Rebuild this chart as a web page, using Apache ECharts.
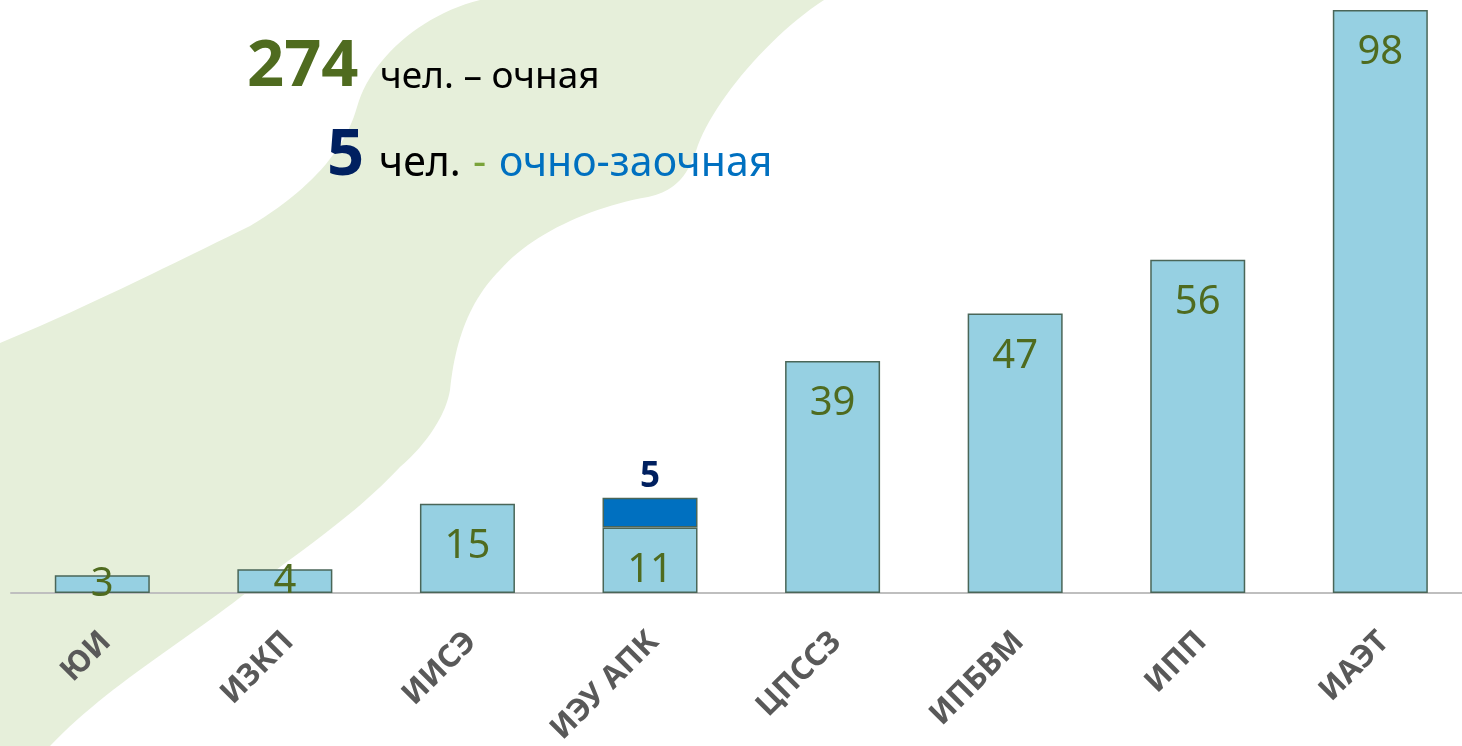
<!DOCTYPE html>
<html>
<head>
<meta charset="utf-8">
<script src="https://cdn.jsdelivr.net/npm/echarts@6/dist/echarts.min.js"></script>
<style>
  html, body { margin: 0; padding: 0; background: #ffffff; }
  #chart { width: 1462px; height: 746px; }
</style>
</head>
<body>
<div id="chart"></div>
<script>
// ---- data ----
const categories = ['ЮИ', 'ИЗКП', 'ИИСЭ', 'ИЭУ АПК', 'ЦПССЗ', 'ИПБВМ', 'ИПП', 'ИАЭТ'];
const fullTime = [3, 4, 15, 11, 39, 47, 56, 98];          // очная
const partTime = [null, null, null, 5, null, null, null, null]; // очно-заочная
const totalFullTime = '274';
const totalPartTime = '5';

const FONT = '"Noto Sans", "Open Sans", sans-serif';

// decorative background band (cubic bezier segments sampled into a polygon)
function sampleBeziers(start, segs) {
  const pts = [start.slice()];
  let p = start;
  segs.forEach(s => {
    if (s.length === 2) { pts.push(s.slice()); p = s; return; }
    const [c1, c2, e] = s;
    for (let i = 1; i <= 24; i++) {
      const t = i / 24, mt = 1 - t;
      pts.push([
        mt*mt*mt*p[0] + 3*mt*mt*t*c1[0] + 3*mt*t*t*c2[0] + t*t*t*e[0],
        mt*mt*mt*p[1] + 3*mt*mt*t*c1[1] + 3*mt*t*t*c2[1] + t*t*t*e[1]
      ]);
    }
    p = e;
  });
  return pts;
}
const bandPoints = sampleBeziers([0, 343], [
  [[80, 310], [160, 270], [250, 226]],
  [[310, 190], [345, 150], [357, 107]],
  [[370, 60], [420, 15], [480, 0]],
  [824, 0],
  [[770, 35], [715, 100], [698, 145]],
  [[690, 170], [680, 190], [648, 197]],
  [[590, 207], [530, 235], [500, 270]],
  [[470, 300], [455, 340], [450, 390]],
  [[445, 420], [420, 450], [400, 467]],
  [[350, 520], [300, 550], [233, 603]],
  [[170, 650], [100, 693], [50, 746]],
  [0, 746]
]);

const chart = echarts.init(document.getElementById('chart'), null, { renderer: 'canvas' });

const fullTimeData = fullTime.map(v => ({
  value: v,
  label: v < 6 ? { position: 'inside', offset: [0, 1] } : { position: 'insideTop', distance: 23 }
}));

const option = {
  backgroundColor: '#ffffff',
  animation: false,
  graphic: [
    {
      type: 'polygon',
      z: -10,
      silent: true,
      shape: { points: bandPoints },
      style: { fill: '#e6efda' }
    },
    {
      type: 'text', z: 10, x: 247, y: 67,
      style: { text: totalFullTime, fill: '#4f6b1f', font: 'bold 65px ' + FONT, verticalAlign: 'middle', align: 'left' }
    },
    {
      type: 'text', z: 10, x: 380, y: 77,
      style: { text: 'чел. – очная', fill: '#000000', font: '37px ' + FONT, verticalAlign: 'middle', align: 'left' }
    },
    {
      type: 'text', z: 10, x: 327, y: 156,
      style: { text: totalPartTime, fill: '#002060', font: 'bold 65px ' + FONT, verticalAlign: 'middle', align: 'left' }
    },
    {
      type: 'text', z: 10, x: 379, y: 164,
      style: { text: 'чел.', fill: '#000000', font: '41px ' + FONT, verticalAlign: 'middle', align: 'left' }
    },
    {
      type: 'text', z: 10, x: 473, y: 164,
      style: { text: '-', fill: '#7aa33a', font: '41px ' + FONT, verticalAlign: 'middle', align: 'left' }
    },
    {
      type: 'text', z: 10, x: 499, y: 164,
      style: { text: 'очно-заочная', fill: '#0070c0', font: '41px ' + FONT, verticalAlign: 'middle', align: 'left' }
    }
  ],
  grid: { left: 11, top: 10, width: 1460.6, height: 583, containLabel: false, outerBoundsMode: 'none' },
  xAxis: {
    type: 'category',
    data: categories,
    axisLine: { show: true, lineStyle: { color: '#bfbfbf', width: 2 } },
    axisTick: { show: false },
    axisLabel: {
      interval: 0,
      rotate: 45,
      margin: 40,
      color: '#595959',
      fontWeight: 'bold',
      fontSize: 31,
      fontFamily: FONT,
      verticalAlign: 'top',
      lineHeight: 11
    }
  },
  yAxis: {
    type: 'value',
    min: 0,
    max: 98,
    show: false,
    splitLine: { show: false }
  },
  series: [
    {
      name: 'очная',
      type: 'bar',
      stack: 'total',
      barWidth: 95,
      data: fullTimeData,
      itemStyle: { color: '#96d0e2', borderColor: '#4a6658', borderWidth: 1.5 },
      label: {
        show: true,
        color: '#4f6b1f',
        fontSize: 40,
        fontFamily: FONT
      }
    },
    {
      name: 'очно-заочная',
      type: 'bar',
      stack: 'total',
      barWidth: 95,
      data: partTime,
      itemStyle: { color: '#0070c0', borderColor: '#4a6658', borderWidth: 1.5 },
      label: {
        show: true,
        position: 'top',
        distance: 3,
        color: '#002060',
        fontWeight: 'bold',
        fontSize: 35,
        fontFamily: FONT
      }
    }
  ]
};

chart.setOption(option);
</script>
</body>
</html>
